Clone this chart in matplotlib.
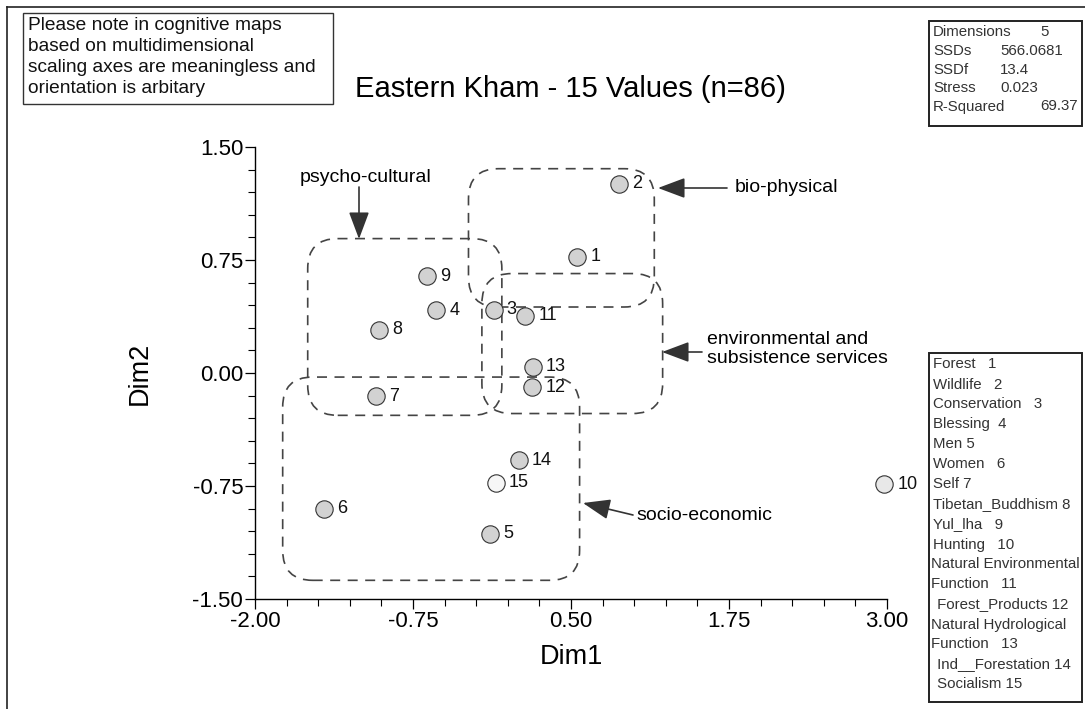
import matplotlib
matplotlib.use("Agg")
import matplotlib.pyplot as plt
from matplotlib.patches import FancyBboxPatch, Rectangle
from matplotlib.lines import Line2D
from matplotlib.ticker import MultipleLocator, FixedLocator, FormatStrFormatter

plt.rcParams['font.family'] = ['Liberation Sans', 'DejaVu Sans']

# ---------------- data ----------------
value_ids = [1, 2, 3, 4, 5, 6, 7, 8, 9, 10, 11, 12, 13, 14, 15]
dim1 = [0.547, 0.877, -0.113, -0.567, -0.139, -1.454, -1.042, -1.016, -0.641, 2.980,
        0.138, 0.191, 0.196, 0.085, -0.094]
dim2 = [0.770, 1.257, 0.421, 0.416, -1.066, -0.900, -0.155, 0.288, 0.642, -0.739,
        0.381, -0.093, 0.040, -0.579, -0.730]

x_major = [-2.00, -0.75, 0.50, 1.75, 3.00]
y_major = [-1.50, -0.75, 0.00, 0.75, 1.50]

title = "Eastern Kham - 15 Values (n=86)"
note_lines = ["Please note in cognitive maps",
              "based on multidimensional",
              "scaling axes are meaningless and",
              "orientation is arbitary"]

stat_names = ["Dimensions", "SSDs", "SSDf", "Stress", "R-Squared"]
stat_values = ["5", "566.0681", "13.4", "0.023", "69.37"]

legend_lines = ["Forest   1", "Wildlife   2", "Conservation   3", "Blessing  4",
                "Men 5", "Women   6", "Self 7", "Tibetan_Buddhism 8", "Yul_lha   9",
                "Hunting   10", "Natural Environmental", "Function   11",
                " Forest_Products 12", "Natural Hydrological", "Function   13",
                " Ind__Forestation 14", " Socialism 15"]

# group regions (x0, x1, y0, y1 in data units) and their labels
groups = ["bio-physical", "psycho-cultural", "environmental and\nsubsistence services", "socio-economic"]
group_boxes = [(-0.311, 1.159, 0.438, 1.356),
               (-1.583, -0.047, -0.281, 0.892),
               (-0.205, 1.225, -0.269, 0.660),
               (-1.781, 0.568, -1.376, -0.027)]

# ---------------- figure ----------------
W, H = 1085, 709
fig = plt.figure(figsize=(W / 100, H / 100), dpi=100)
fig.patch.set_facecolor('white')

def fx(px):
    return px / W

def fy(py):
    return 1 - py / H

ax = fig.add_axes([fx(255), fy(599), fx(887) - fx(255), fy(147) - fy(599)])
ax.set_xlim(-2, 3)
ax.set_ylim(-1.5, 1.5)
for s in ['top', 'right']:
    ax.spines[s].set_visible(False)
for s in ['left', 'bottom']:
    ax.spines[s].set_linewidth(1.0)
ax.xaxis.set_major_locator(FixedLocator(x_major))
ax.yaxis.set_major_locator(FixedLocator(y_major))
ax.xaxis.set_minor_locator(MultipleLocator(0.25))
ax.yaxis.set_minor_locator(MultipleLocator(0.15))
ax.xaxis.set_major_formatter(FormatStrFormatter('%.2f'))
ax.yaxis.set_major_formatter(FormatStrFormatter('%.2f'))
ax.tick_params(which='major', length=7, width=0.9, labelsize=16, pad=1.5, direction='out')
ax.tick_params(which='minor', length=5, width=0.8, direction='out')
ax.set_facecolor('none')

# group boxes (dashed, rounded)
px_x = (887 - 255) / 5.0
px_y = (599 - 147) / 3.0
r = 30 / px_x
aspect = (1 / px_y) / (1 / px_x)
for (x0, x1, y0, y1) in group_boxes:
    p = FancyBboxPatch((x0, y0), x1 - x0, y1 - y0,
                       boxstyle=f"round,pad=0,rounding_size={r}",
                       mutation_aspect=aspect,
                       fill=False, edgecolor='#444444', linewidth=1.2,
                       linestyle=(0, (6, 4.5)), zorder=2)
    ax.add_patch(p)

# points
fills = ['#d2d2d2'] * len(value_ids)
fills[14] = '#f6f6f6'
fills[9] = '#e8e8e8'
for i, vid in enumerate(value_ids):
    ax.plot(dim1[i], dim2[i], 'o', markersize=12.5, markerfacecolor=fills[i],
            markeredgecolor='#333333', markeredgewidth=0.8, zorder=4, clip_on=False)
    ax.annotate(str(vid), (dim1[i], dim2[i]), xytext=(9.5, 0), textcoords='offset points',
                ha='left', va='center', fontsize=13, color='#111111', zorder=5,
                annotation_clip=False)

# axis labels
fig.text(fx(571), fy(657), "Dim1", fontsize=19.5, ha='center', va='center')
fig.text(fx(140), fy(373), "Dim2", fontsize=19.5, ha='center', va='center', rotation=90)

# title
fig.text(fx(570), fy(89), title, fontsize=21, ha='center', va='center')

# group labels and arrows (figure pixel coordinates)
label_pos = [(735, 187, 'left'), (366, 177, 'center'), (707, 349, 'left'), (636, 515, 'left')]
arrows = [((727, 188), (658, 188)),
          ((359, 187), (359, 239)),
          ((702, 352), (662, 352)),
          ((633, 515), (583, 503))]
for g, (lx, ly, ha), ((tx, ty), (hx, hy)) in zip(groups, label_pos, arrows):
    fig.text(fx(lx), fy(ly), g, fontsize=14, ha=ha, va='center', linespacing=1.1)
    fig.add_artist(matplotlib.patches.FancyArrowPatch(
        (tx, H - ty), (hx, H - hy), transform=None,
        arrowstyle='-|>,head_length=1.2,head_width=0.45', mutation_scale=14,
        color='#333333', linewidth=1.2, shrinkA=0, shrinkB=0))

# outer frame
fig.add_artist(Line2D([fx(7), 1], [fy(7), fy(7)], color='#222222', linewidth=1.2, transform=fig.transFigure))
fig.add_artist(Line2D([fx(7), fx(7)], [fy(7), 0], color='#222222', linewidth=1.2, transform=fig.transFigure))

# note box
fig.add_artist(Rectangle((fx(23), fy(104)), fx(333) - fx(23), fy(13) - fy(104),
                         fill=False, edgecolor='#333333', linewidth=1.0, transform=fig.transFigure))
for i, line in enumerate(note_lines):
    fig.text(fx(28), fy(25 + i * 21.1), line, fontsize=13.8, ha='left', va='center', color='#111111')

# stats box
fig.add_artist(Rectangle((fx(929), fy(126)), fx(1082) - fx(929), fy(21) - fy(126),
                         fill=False, edgecolor='#222222', linewidth=1.4, transform=fig.transFigure))
stat_value_x = [1040, 1000, 1000, 1000, 1040]
for i, (n, v) in enumerate(zip(stat_names, stat_values)):
    yy = fy(32.5 + i * 18.5)
    fig.text(fx(933), yy, n, fontsize=10.8, ha='left', va='center', color='#333333')
    fig.text(fx(stat_value_x[i]), yy, v, fontsize=10.8, ha='left', va='center', color='#333333')

# legend box
fig.add_artist(Rectangle((fx(929), fy(702)), fx(1082) - fx(929), fy(353) - fy(702),
                         fill=False, edgecolor='#222222', linewidth=1.4, transform=fig.transFigure))
for i, line in enumerate(legend_lines):
    x0 = 931 if (line.startswith("Natural") or line.startswith("Function")) else 933
    fig.text(fx(x0), fy(364.5 + i * 20.0), line, fontsize=10.8, ha='left', va='center', color='#333333')

fig.savefig("out.png", dpi=100, facecolor='white')
